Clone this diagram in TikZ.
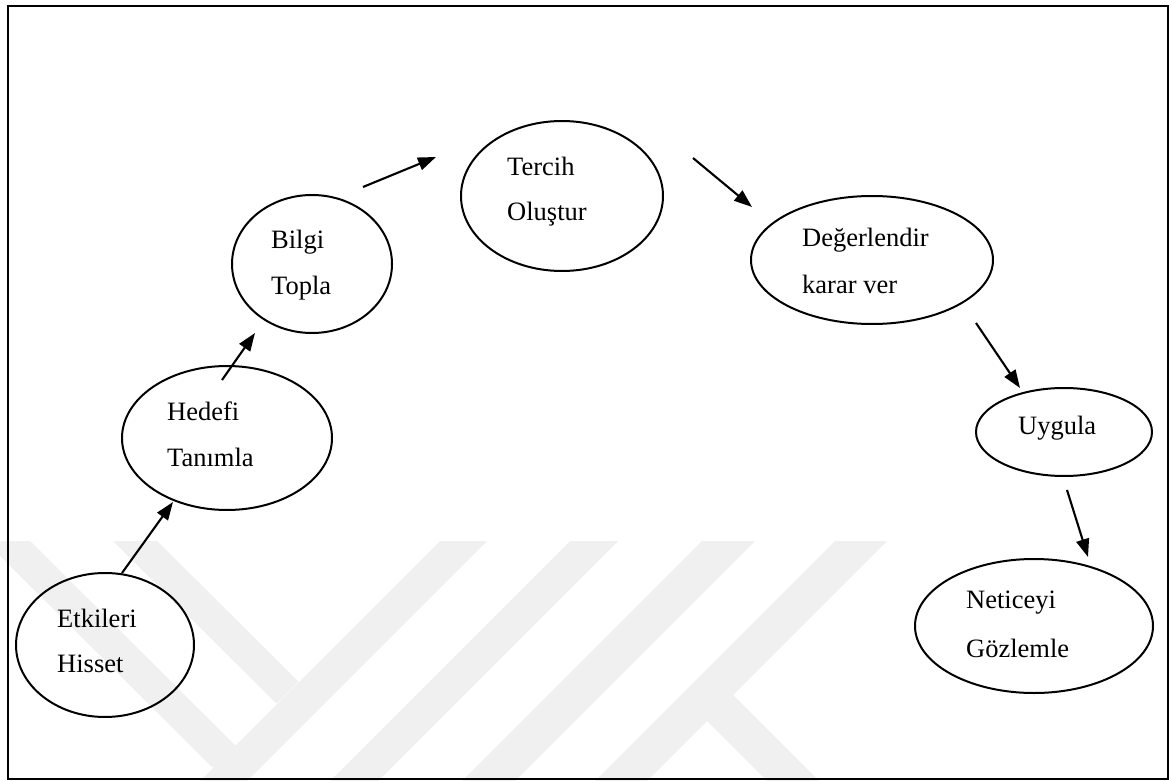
\documentclass[tikz,border=0pt]{standalone}
\usepackage{fontspec}
\setmainfont{Liberation Serif}
\usetikzlibrary{shapes.geometric,arrows.meta}
\tikzset{
  ellipsebox/.style={draw, ellipse, line width=2pt, inner sep=0pt},
  arr/.style={-{Triangle[length=18pt,width=13pt]}, line width=2.1pt},
  lbl/.style={anchor=base west, inner sep=0pt, font=\fontsize{26.5}{30}\selectfont},
  wmark/.style={fill=black!6, draw=none}
}
\begin{document}
\begin{tikzpicture}[x=1pt,y=-1pt]
\useasboundingbox (0,0) rectangle (1171,781);
\fill[white] (0,0) rectangle (1171,781);
% faint background watermark
\begin{scope}
\clip (0,0) rectangle (1171,781);
\fill[wmark] (-15,541) -- (30,541) -- (258,768) -- (212,767) -- cycle;
\fill[wmark] (113,541) -- (157,541) -- (298.5,681.5) -- (276.5,703.5) -- cycle;
\fill[wmark] (440,541) -- (487,541) -- (246,782) -- (199,782) -- cycle;
\fill[wmark] (570,541) -- (618,541) -- (377,782) -- (329,782) -- cycle;
\fill[wmark] (702,541) -- (755,541) -- (514,782) -- (461,782) -- cycle;
\fill[wmark] (835,541) -- (887,541) -- (646,782) -- (594,782) -- cycle;
\fill[wmark] (732,694) -- (820,782) -- (768,782) -- (706,720) -- cycle;
\end{scope}
% frame
\draw[line width=2pt] (7.5,6) rectangle (1168,779);
% ellipses
\node[ellipsebox, minimum width=178pt, minimum height=144pt] (n1) at (105,645) {};
\node[ellipsebox, minimum width=210pt, minimum height=144pt] (n2) at (227,438) {};
\node[ellipsebox, minimum width=160pt, minimum height=138pt] (n3) at (312,264) {};
\node[ellipsebox, minimum width=202pt, minimum height=150pt] (n4) at (562,196) {};
\node[ellipsebox, minimum width=242pt, minimum height=128pt] (n5) at (872,260) {};
\node[ellipsebox, minimum width=176pt, minimum height=88pt] (n6) at (1064,432) {};
\node[ellipsebox, minimum width=238pt, minimum height=134pt] (n7) at (1034,626) {};
% labels
\node[lbl] (t1a) at (57,627) {Etkileri};
\node[lbl] (t1b) at (57,672) {Hisset};
\node[lbl] (t2a) at (167,420) {Hedefi};
\node[lbl] (t2b) at (167,466) {Tanımla};
\node[lbl] (t3a) at (271,248) {Bilgi};
\node[lbl] (t3b) at (271,294) {Topla};
\node[lbl] (t4a) at (507,176) {Tercih};
\node[lbl] (t4b) at (507,221) {Oluştur};
\node[lbl] (t5a) at (802,247) {Değerlendir};
\node[lbl] (t5b) at (802,293) {karar ver};
\node[lbl] (t6a) at (1018,434) {Uygula};
\node[lbl] (t7a) at (966,608) {Neticeyi};
\node[lbl] (t7b) at (966,657) {Gözlemle};
% connector end points
\coordinate (a1s) at (122,573);
\coordinate (a1e) at (173,502);
\coordinate (a2s) at (222,380);
\coordinate (a2e) at (255,333);
\coordinate (a3s) at (363,187);
\coordinate (a3e) at (436,157);
\coordinate (a4s) at (693,158);
\coordinate (a4e) at (752,207);
\coordinate (a5s) at (976,323);
\coordinate (a5e) at (1020,388);
\coordinate (a6s) at (1067,490);
\coordinate (a6e) at (1088,557);
% connectors
\draw[arr] (a1s) -- (a1e);
\draw[arr] (a2s) -- (a2e);
\draw[arr] (a3s) -- (a3e);
\draw[arr] (a4s) -- (a4e);
\draw[arr] (a5s) -- (a5e);
\draw[arr] (a6s) -- (a6e);
\end{tikzpicture}
\end{document}
